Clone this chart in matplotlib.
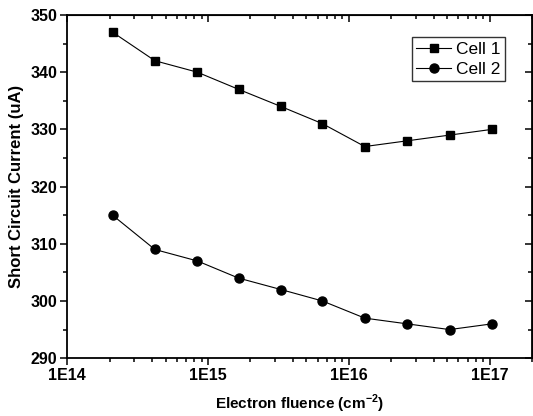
import numpy as np
import matplotlib
matplotlib.use("Agg")
import matplotlib.pyplot as plt
from matplotlib.ticker import FixedLocator, FuncFormatter, LogLocator, MultipleLocator

plt.rcParams['font.family'] = ['Liberation Sans', 'DejaVu Sans']
plt.rcParams['mathtext.fontset'] = 'custom'
plt.rcParams['mathtext.rm'] = 'Liberation Sans'
plt.rcParams['mathtext.bf'] = 'Liberation Sans:bold'

# Fluence (cm^-2) and short circuit current (uA)
fluence = [2.1e14, 4.2e14, 8.4e14, 1.65e15, 3.3e15, 6.5e15, 1.3e16, 2.6e16, 5.2e16, 1.04e17]
cell1 = [347, 342, 340, 337, 334, 331, 327, 328, 329, 330]
cell2 = [315, 309, 307, 304, 302, 300, 297, 296, 295, 296]
major_x = [1e14, 1e15, 1e16, 1e17]

fig = plt.figure(figsize=(5.33, 4.16), dpi=100)
ax = fig.add_axes([0.126, 0.139, 0.872, 0.825])

ax.plot(fluence, cell1, color='black', linewidth=0.8, marker='s', markersize=5.5, label='Cell 1')
ax.plot(fluence, cell2, color='black', linewidth=0.8, marker='o', markersize=6.5, label='Cell 2')

ax.set_xscale('log')
ax.set_xlim(1e14, 2e17)
ax.set_ylim(290, 350)

ax.xaxis.set_major_locator(FixedLocator(major_x))
ax.xaxis.set_major_formatter(FuncFormatter(lambda v, p: "1E%d" % round(np.log10(v))))
ax.xaxis.set_minor_locator(LogLocator(base=10, subs=np.arange(2, 10)))
ax.xaxis.set_minor_formatter(FuncFormatter(lambda v, p: ""))
ax.yaxis.set_major_locator(MultipleLocator(10))
ax.yaxis.set_minor_locator(MultipleLocator(5))

for s in ax.spines.values():
    s.set_linewidth(1.3)

ax.tick_params(which='both', direction='out', bottom=True, left=True, top=False, right=False, width=1.1)
ax.tick_params(which='major', length=5)
ax.tick_params(which='minor', length=3)
ax.tick_params(axis='both', labelsize=11.5, pad=2)
for lbl in ax.get_xticklabels() + ax.get_yticklabels():
    lbl.set_fontweight('bold')

# inward ticks on top and right side
sec_x = ax.secondary_xaxis('top')
sec_x.set_xscale('log')
sec_x.xaxis.set_major_locator(FixedLocator(major_x))
sec_x.xaxis.set_minor_locator(LogLocator(base=10, subs=np.arange(2, 10)))
sec_x.tick_params(which='both', direction='in', labeltop=False, width=1.1)
sec_x.tick_params(which='major', length=5)
sec_x.tick_params(which='minor', length=3)
sec_x.xaxis.set_major_formatter(FuncFormatter(lambda v, p: ""))
sec_x.xaxis.set_minor_formatter(FuncFormatter(lambda v, p: ""))

sec_y = ax.secondary_yaxis('right')
sec_y.yaxis.set_major_locator(MultipleLocator(10))
sec_y.yaxis.set_minor_locator(MultipleLocator(5))
sec_y.tick_params(which='both', direction='in', labelright=False, width=1.1)
sec_y.tick_params(which='major', length=5)
sec_y.tick_params(which='minor', length=3)

ax.set_xlabel(r'Electron fluence (cm$^{\mathbf{-2}}$)', fontsize=11, fontweight='bold', labelpad=7)
ax.set_ylabel('Short Circuit Current (uA)', fontsize=12, fontweight='bold', labelpad=5)

leg = ax.legend(loc='upper right', bbox_to_anchor=(0.942, 0.935), fontsize=12.5, frameon=True,
                fancybox=False, edgecolor='black', handlelength=2.0, handletextpad=0.3,
                borderpad=0.25, labelspacing=0.3, borderaxespad=0)
leg.get_frame().set_linewidth(1.0)

fig.savefig('out.png', dpi=100)
